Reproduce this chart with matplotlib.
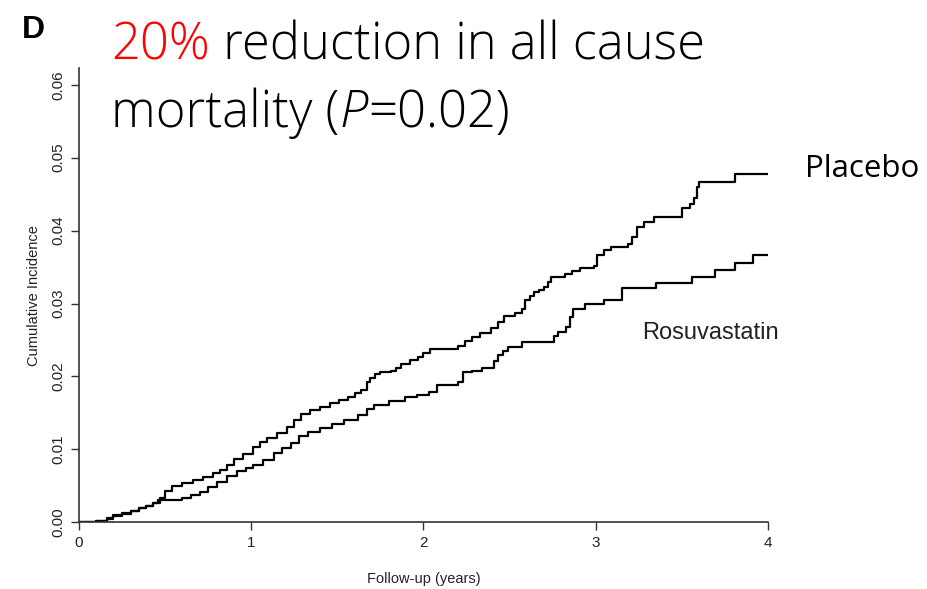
import matplotlib
matplotlib.use("Agg")
import matplotlib.pyplot as plt

# cumulative incidence (time in years)
placebo_t = [0, 0.10, 0.16, 0.20, 0.25, 0.30, 0.35, 0.39, 0.43, 0.47, 0.50, 0.54,
             0.60, 0.66, 0.72, 0.78, 0.82, 0.86, 0.90, 0.95, 1.01, 1.05, 1.09, 1.15,
             1.21, 1.25, 1.29, 1.34, 1.40, 1.46, 1.51, 1.56, 1.60, 1.64, 1.67, 1.69,
             1.72, 1.75, 1.81, 1.84, 1.87, 1.92, 1.97, 2.00, 2.04, 2.20, 2.24, 2.28,
             2.33, 2.39, 2.43, 2.47, 2.53, 2.57, 2.59, 2.62, 2.64, 2.67, 2.70, 2.72,
             2.74, 2.82, 2.86, 2.91, 2.99, 3.01, 3.05, 3.09, 3.19, 3.21, 3.24, 3.28,
             3.34, 3.50, 3.55, 3.57, 3.59, 3.60, 3.81, 4.00]
placebo_ci = [0, 0.0002, 0.0004, 0.0009, 0.0012, 0.0015, 0.0019, 0.0022, 0.0026, 0.0034,
              0.0043, 0.0050, 0.0054, 0.0058, 0.0062, 0.0067, 0.0072, 0.0079, 0.0087,
              0.0094, 0.0103, 0.0110, 0.0116, 0.0123, 0.0131, 0.0140, 0.0148, 0.0154,
              0.0158, 0.0164, 0.0168, 0.0172, 0.0177, 0.0182, 0.0192, 0.0198, 0.0203,
              0.0206, 0.0207, 0.0212, 0.0217, 0.0222, 0.0227, 0.0232, 0.0238, 0.0242,
              0.0248, 0.0254, 0.0260, 0.0267, 0.0275, 0.0283, 0.0287, 0.0292, 0.0305,
              0.0311, 0.0316, 0.0319, 0.0323, 0.0330, 0.0336, 0.0341, 0.0345, 0.0349,
              0.0352, 0.0366, 0.0373, 0.0378, 0.0381, 0.0391, 0.0405, 0.0412, 0.0419,
              0.0431, 0.0436, 0.0445, 0.0460, 0.0467, 0.0478, 0.0478]

rosu_t = [0, 0.10, 0.16, 0.20, 0.25, 0.30, 0.35, 0.39, 0.43, 0.46, 0.55, 0.60, 0.65,
          0.70, 0.75, 0.80, 0.86, 0.92, 0.97, 1.01, 1.07, 1.13, 1.18, 1.23, 1.28,
          1.33, 1.40, 1.47, 1.54, 1.62, 1.67, 1.71, 1.80, 1.89, 1.96, 2.03, 2.08,
          2.20, 2.23, 2.28, 2.34, 2.41, 2.43, 2.46, 2.49, 2.57, 2.76, 2.78, 2.83,
          2.85, 2.87, 2.94, 3.05, 3.15, 3.35, 3.56, 3.69, 3.81, 3.91, 4.00]
rosu_ci = [0, 0.0002, 0.0006, 0.0010, 0.0013, 0.0016, 0.0019, 0.0022, 0.0027, 0.0030,
           0.0031, 0.0033, 0.0037, 0.0042, 0.0048, 0.0055, 0.0064, 0.0070, 0.0074,
           0.0078, 0.0086, 0.0095, 0.0102, 0.0109, 0.0118, 0.0124, 0.0130, 0.0135,
           0.0140, 0.0147, 0.0155, 0.0161, 0.0166, 0.0172, 0.0175, 0.0179, 0.0188,
           0.0192, 0.0206, 0.0208, 0.0212, 0.0221, 0.0229, 0.0235, 0.0241, 0.0247,
           0.0255, 0.0261, 0.0268, 0.0281, 0.0293, 0.0300, 0.0305, 0.0321, 0.0328,
           0.0336, 0.0346, 0.0355, 0.0367, 0.0367]

x_ticks = [0, 1, 2, 3, 4]
y_ticks = [0.00, 0.01, 0.02, 0.03, 0.04, 0.05, 0.06]

plt.rcParams["font.family"] = ["Liberation Sans", "DejaVu Sans"]

fig = plt.figure(figsize=(9.28, 5.89), dpi=100)
ax = fig.add_axes([0.0851, 0.1132, 0.7425, 0.7714])

ax.plot(placebo_t, placebo_ci, drawstyle="steps-post", color="black", lw=1.6)
ax.plot(rosu_t, rosu_ci, drawstyle="steps-post", color="black", lw=1.6)

ax.set_xlim(0, 4.0)
ax.set_ylim(0, 0.0623)
ax.set_xticks(x_ticks)
ax.set_xticklabels([str(v) for v in x_ticks])
ax.set_yticks(y_ticks)
ax.set_yticklabels(["%.2f" % v for v in y_ticks], rotation=90, va="center")

for s in ["top", "right"]:
    ax.spines[s].set_visible(False)
for s in ["left", "bottom"]:
    ax.spines[s].set_color("#333333")
    ax.spines[s].set_linewidth(1.2)
ax.tick_params(direction="out", length=6, width=1.0, color="#333333",
               labelsize=11, labelcolor="#222222", pad=4)

ax.set_xlabel("Follow-up (years)", fontsize=10.5, color="#222222", labelpad=16)
ax.set_ylabel("Cumulative Incidence", fontsize=10.5, color="#222222", labelpad=7)

fig.text(0.036, 0.949, "D", fontsize=23, fontweight="bold", ha="center", va="center")


def put_pieces(x0, y0, pieces, size):
    # lay text pieces side by side, measuring each one as it goes
    renderer = fig.canvas.get_renderer()
    x = x0
    for txt, color, style in pieces:
        t = fig.text(x, y0, txt, color=color, fontsize=size, style=style,
                     family=["Open Sans", "DejaVu Sans"], fontweight=300,
                     ha="left", va="baseline")
        bb = t.get_window_extent(renderer=renderer)
        x += bb.width / fig.bbox.width


put_pieces(0.12, 1 - 60 / 589, [("20%", "red", "normal"),
                                (" reduction in all cause", "black", "normal")], 36.5)
put_pieces(0.12, 1 - 127 / 589, [("mortality (", "black", "normal"),
                                 ("P", "black", "italic"),
                                 ("=0.02)", "black", "normal")], 36.5)

# curve labels
fig.text(0.867, 1 - 177 / 589, "Placebo", fontsize=22.5,
         family=["Open Sans", "DejaVu Sans"], ha="left", va="baseline")
ax.text(3.27, 0.0259, "Rosuvastatin", fontsize=17, ha="left", va="center",
        color="#222222")

fig.savefig("out.png", dpi=100)
